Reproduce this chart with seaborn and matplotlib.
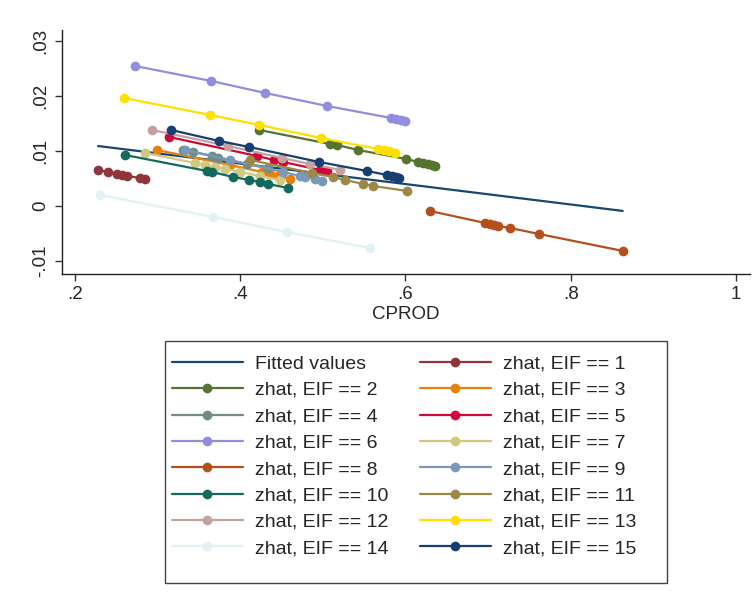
import matplotlib
matplotlib.use("Agg")
import matplotlib.pyplot as plt
from matplotlib.patches import Rectangle
import seaborn as sns
import pandas as pd

# Fitted values (linear fit of zhat on CPROD), given at the two ends of the CPROD range
fit_x = [0.228, 0.863]
fit_z = [0.0109, -0.0009]

# zhat by CPROD for each EIF group
x1 = [0.2278, 0.2400, 0.2508, 0.2569, 0.2630, 0.2787, 0.2847]
z1 = [0.00655, 0.00618, 0.00582, 0.00564, 0.00545, 0.00509, 0.00491]
x2 = [0.4228, 0.5087, 0.5172, 0.5426, 0.6007, 0.6153, 0.6213, 0.6274, 0.6322, 0.6358]
z2 = [0.01382, 0.01127, 0.01109, 0.01018, 0.00855, 0.00800, 0.00782, 0.00764, 0.00745, 0.00727]
x3 = [0.2993, 0.3877, 0.4264, 0.4361, 0.4458, 0.4603]
z3 = [0.01018, 0.00745, 0.00618, 0.00582, 0.00545, 0.00491]
x4 = [0.3308, 0.3429, 0.3659, 0.3731, 0.4082, 0.4337]
z4 = [0.01018, 0.00982, 0.00909, 0.00873, 0.00764, 0.00691]
x5 = [0.3138, 0.4203, 0.4409, 0.4518, 0.4966, 0.5051]
z5 = [0.01255, 0.00909, 0.00836, 0.00800, 0.00655, 0.00636]
x6 = [0.2727, 0.3646, 0.4300, 0.5050, 0.5826, 0.5886, 0.5947, 0.5995]
z6 = [0.02545, 0.02273, 0.02055, 0.01818, 0.01600, 0.01582, 0.01564, 0.01545]
x7 = [0.2847, 0.3453, 0.3574, 0.3695, 0.3816, 0.3998, 0.4240, 0.4482]
z7 = [0.00964, 0.00782, 0.00745, 0.00709, 0.00673, 0.00618, 0.00545, 0.00473]
x8 = [0.6298, 0.6964, 0.7024, 0.7073, 0.7121, 0.7266, 0.7617, 0.8634]
z8 = [-0.00091, -0.00309, -0.00327, -0.00345, -0.00364, -0.00400, -0.00509, -0.00818]
x9 = [0.3332, 0.3877, 0.4518, 0.4724, 0.4785, 0.4906, 0.4990]
z9 = [0.01018, 0.00836, 0.00618, 0.00545, 0.00527, 0.00491, 0.00455]
x10 = [0.2605, 0.3598, 0.3659, 0.3913, 0.4107, 0.4240, 0.4337, 0.4579]
z10 = [0.00927, 0.00636, 0.00618, 0.00527, 0.00473, 0.00436, 0.00400, 0.00327]
x11 = [0.4119, 0.4869, 0.5123, 0.5269, 0.5487, 0.5608, 0.6019]
z11 = [0.00836, 0.00600, 0.00527, 0.00473, 0.00400, 0.00364, 0.00273]
x12 = [0.2932, 0.3852, 0.4506, 0.4845, 0.5208]
z12 = [0.01382, 0.01091, 0.00873, 0.00764, 0.00655]
x13 = [0.2593, 0.3634, 0.4228, 0.4978, 0.5668, 0.5741, 0.5801, 0.5874]
z13 = [0.01964, 0.01655, 0.01473, 0.01236, 0.01036, 0.01018, 0.01000, 0.00964]
x14 = [0.2303, 0.3671, 0.4567, 0.5571]
z14 = [0.00200, -0.00200, -0.00473, -0.00764]
x15 = [0.3162, 0.3743, 0.4107, 0.4954, 0.5535, 0.5777, 0.5838, 0.5886, 0.5923]
z15 = [0.01382, 0.01182, 0.01073, 0.00800, 0.00636, 0.00564, 0.00545, 0.00527, 0.00509]

xs = [x1, x2, x3, x4, x5, x6, x7, x8, x9, x10, x11, x12, x13, x14, x15]
zs = [z1, z2, z3, z4, z5, z6, z7, z8, z9, z10, z11, z12, z13, z14, z15]

fit_color = "#1a476f"
group_colors = ["#90353b", "#55752f", "#e8800a", "#6e8e84", "#d0073a",
                "#938de0", "#d2c87e", "#b4501e", "#7b98b8", "#13695e",
                "#9c8847", "#c4a39e", "#ffe000", "#e2f2f4", "#173f72"]

x_ticks = [0.2, 0.4, 0.6, 0.8, 1.0]
x_ticklabels = [".2", ".4", ".6", ".8", "1"]
y_ticks = [-0.01, 0.0, 0.01, 0.02, 0.03]
y_ticklabels = ["-.01", "0", ".01", ".02", ".03"]

sns.set_style("white")
plt.rcParams["font.family"] = ["Liberation Sans", "DejaVu Sans"]

W, H = 756, 611
fig = plt.figure(figsize=(W / 100, H / 100), dpi=100)
ax = fig.add_axes([0.082, 0.5516, 0.910, 0.3994])

fit_df = pd.DataFrame({"CPROD": fit_x, "zhat": fit_z})
sns.lineplot(data=fit_df, x="CPROD", y="zhat", ax=ax, color=fit_color,
             linewidth=1.6, errorbar=None, label="Fitted values")

for i, (gx, gz) in enumerate(zip(xs, zs)):
    df = pd.DataFrame({"CPROD": gx, "zhat": gz})
    sns.lineplot(data=df, x="CPROD", y="zhat", ax=ax, color=group_colors[i],
                 linewidth=1.6, marker="o", markersize=7, markeredgewidth=0,
                 errorbar=None, label=f"zhat, EIF == {i + 1}")

h, l = ax.get_legend_handles_labels()
lookup = dict(zip(l, h))
order = ["Fitted values"] + [f"zhat, EIF == {k}" for k in range(2, 15, 2)] + \
        [f"zhat, EIF == {k}" for k in range(1, 16, 2)]
ax.get_legend().remove()

ax.set_xlim(0.1843, 1.017)
ax.set_ylim(-0.01236, 0.0320)
ax.set_xticks(x_ticks)
ax.set_xticklabels(x_ticklabels)
ax.set_yticks(y_ticks)
ax.set_yticklabels(y_ticklabels, rotation=90, va="center")
ax.tick_params(axis="both", direction="out", length=5, width=1, color="#333333",
               labelsize=13.5, pad=4, left=True, bottom=True)
ax.set_xlabel("CPROD", fontsize=13.5, labelpad=2)
ax.set_ylabel("")
for side in ["top", "right"]:
    ax.spines[side].set_visible(False)
for side in ["left", "bottom"]:
    ax.spines[side].set_color("#222222")
    ax.spines[side].set_linewidth(1.0)

# Legend entries in two columns, with its frame drawn as a separate box
leg = fig.legend([lookup[k] for k in order], order, ncol=2, loc="upper left",
                 bbox_to_anchor=(172 / W, 1 - 355 / H),
                 fontsize=14, handlelength=3.65, handletextpad=0.62,
                 labelspacing=0.45, borderpad=0.0, borderaxespad=0.0,
                 columnspacing=1.6, frameon=False, numpoints=1)
fig.add_artist(Rectangle((165 / W, 1 - 583 / H), (667 - 165) / W, (583 - 341) / H,
                         transform=fig.transFigure, fill=False,
                         edgecolor="#444444", linewidth=1.0))

fig.savefig("out.png", dpi=100, facecolor="white")
